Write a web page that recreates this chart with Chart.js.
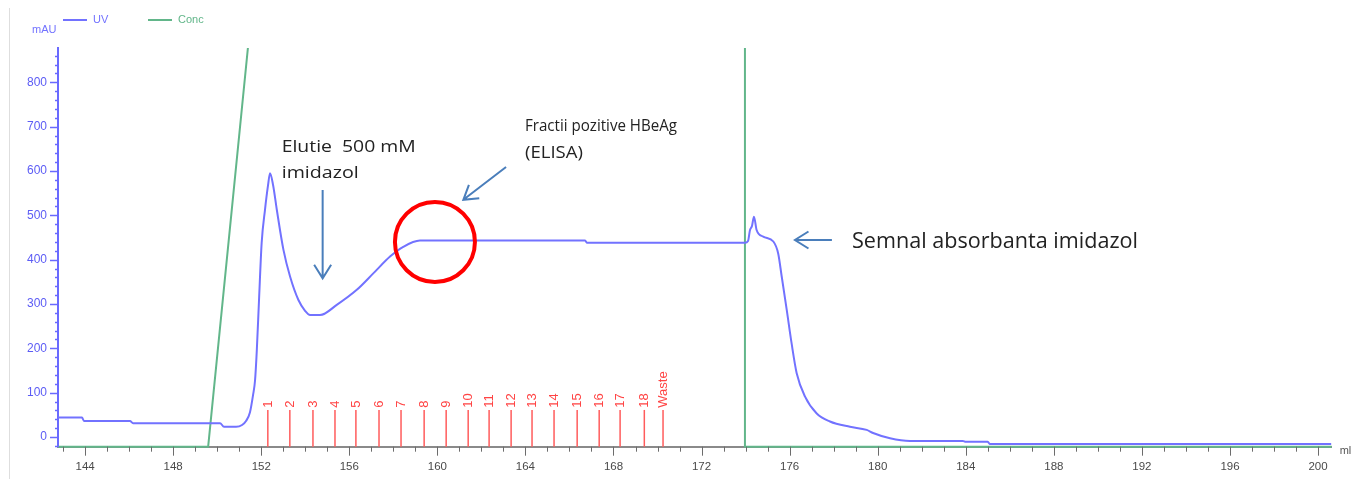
<!DOCTYPE html>
<html>
<head>
<meta charset="utf-8">
<script src="https://cdn.jsdelivr.net/npm/chart.js@4.4.0/dist/chart.umd.min.js"></script>
<style>
  html, body { margin: 0; padding: 0; background: #fff; }
  #wrap { width: 1359px; height: 479px; }
</style>
</head>
<body>
<div id="wrap"><canvas id="chart" width="1359" height="479"></canvas></div>
<script>
// UV trace (mAU), by elution volume (ml)
const uvMl = [142.77, 143.86, 143.95, 146.04, 146.18, 150.13, 150.31, 150.86, 151.13, 151.31,
  151.49, 151.63, 151.72, 151.8, 151.9, 152.02, 152.17, 152.31, 152.4, 152.54,
  152.71, 153.01, 153.31, 153.69, 154.0, 154.22, 154.67, 155.43, 156.34, 157.09,
  157.85, 158.45, 159.21, 166.71, 166.8, 173.97, 174.11, 174.2, 174.29, 174.38,
  174.5, 174.8, 175.26, 175.48, 175.64, 175.87, 176.09, 176.32, 176.7, 177.23,
  177.83, 178.74, 179.5, 179.79, 180.56, 181.47, 183.87, 184.0, 185.0, 185.1, 200.6];
const uvMau = [44, 44, 36, 36, 31, 31, 23, 23, 27, 36,
  56, 95, 128, 196, 309, 438, 512, 568, 595, 568,
  512, 422, 362, 309, 284, 275, 275, 298, 332, 369,
  407, 429, 443, 443, 438, 438, 442, 467, 476, 497,
  467, 452, 441, 414, 362, 286, 211, 144, 91, 53,
  35, 23, 16, 9, -3, -9, -9, -11, -11, -16, -16];

// gradient concentration (% B)
const concMl = [142.77, 149.59, 153.2, 173.97, 173.97, 200.62];
const concPct = [0, 0, 100, 100, 0, 0];

// fraction collector marks
const fractionMl = [152.3, 153.3, 154.35, 155.35, 156.3, 157.35, 158.35, 159.4, 160.4, 161.4,
  162.35, 163.35, 164.3, 165.3, 166.35, 167.35, 168.3, 169.4, 170.25];
const fractionLabels = ["1", "2", "3", "4", "5", "6", "7", "8", "9", "10",
  "11", "12", "13", "14", "15", "16", "17", "18", "Waste"];

const xRange = [142.77, 200.62];
const yRange = [-21.9, 877.5];

const uvColor = "#7272ff";
const concColor = "#62b68a";
const noteColor = "#4a7ebb";
const noteFont = '"Open Sans", sans-serif';

// callouts placed in data coordinates (ml, mAU)
const notes = [
  { text: "Elutie  500 mM", ml: 152.93, mau: 643.6, size: 17, w: 134 },
  { text: "imidazol", ml: 152.93, mau: 583.6, size: 17, w: 77 },
  { text: "Fractii pozitive HBeAg", ml: 163.98, mau: 690, size: 17, w: 152 },
  { text: "(ELISA)", ml: 163.98, mau: 629, size: 17, w: 58 },
  { text: "Semnal absorbanta imidazol", ml: 178.83, mau: 426.3, size: 22, w: 286 }
];
const arrows = [
  { from: [154.79, 557], to: [154.79, 358] },
  { from: [163.12, 609], to: [161.18, 535] },
  { from: [177.92, 444.4], to: [176.24, 444.4] }
];
const ring = { ml: 159.89, mau: 440 };

function fitText(c, str, x, y, size, w) {
  c.font = `${size}px ${noteFont}`;
  const m = c.measureText(str).width;
  c.save();
  c.translate(x, y);
  c.scale(w / m, 1);
  c.fillText(str, 0, 0);
  c.restore();
}

function arrow(c, x1, y1, x2, y2) {
  const a = Math.atan2(y2 - y1, x2 - x1);
  c.beginPath();
  c.moveTo(x1, y1);
  c.lineTo(x2, y2);
  c.moveTo(x2 - 16 * Math.cos(a - 0.56), y2 - 16 * Math.sin(a - 0.56));
  c.lineTo(x2, y2);
  c.lineTo(x2 - 16 * Math.cos(a + 0.56), y2 - 16 * Math.sin(a + 0.56));
  c.stroke();
}

const decor = {
  id: "decor",
  beforeDraw(chart) {
    const c = chart.ctx;
    c.save();
    c.fillStyle = "#fff";
    c.fillRect(0, 0, chart.width, chart.height);
    c.strokeStyle = "#dedede";
    c.lineWidth = 1;
    c.beginPath();
    c.moveTo(9.5, 8);
    c.lineTo(9.5, chart.height);
    c.stroke();
    c.restore();
  },
  afterDatasetsDraw(chart) {
    const c = chart.ctx;
    const { x, y } = chart.scales;
    c.save();

    // tick marks
    c.lineWidth = 1.5;
    c.strokeStyle = "#6a6aff";
    y.ticks.forEach(t => {
      const p = Math.round(y.getPixelForValue(t.value)) + 0.5;
      const major = t.value % 100 === 0;
      c.beginPath();
      c.moveTo(y.right - (major ? 8 : 3), p);
      c.lineTo(y.right + 1, p);
      c.stroke();
    });
    c.lineWidth = 1;
    c.strokeStyle = "#6c6c6c";
    x.ticks.forEach(t => {
      const p = Math.round(x.getPixelForValue(t.value)) + 0.5;
      const major = t.value % 4 === 0;
      c.beginPath();
      c.moveTo(p, x.top);
      c.lineTo(p, x.top + (major ? 9 : 5));
      c.stroke();
    });

    // fractions
    c.strokeStyle = "#ff5c5c";
    c.fillStyle = "#ff4444";
    c.lineWidth = 1.5;
    c.font = '13px "Liberation Sans", Arial, sans-serif';
    fractionMl.forEach((ml, i) => {
      const p = x.getPixelForValue(ml);
      c.beginPath();
      c.moveTo(p, y.bottom);
      c.lineTo(p, y.getPixelForValue(61));
      c.stroke();
      c.save();
      c.translate(p, y.getPixelForValue(66));
      c.rotate(-Math.PI / 2);
      c.textAlign = "left";
      c.textBaseline = "middle";
      c.fillText(fractionLabels[i], 0, 0.5);
      c.restore();
    });

    // legend + units
    c.font = '11px "Liberation Sans", Arial, sans-serif';
    c.textBaseline = "middle";
    c.fillStyle = uvColor;
    c.fillText("mAU", 32, 30);
    c.lineWidth = 2;
    c.strokeStyle = uvColor;
    c.beginPath(); c.moveTo(63, 20); c.lineTo(87, 20); c.stroke();
    c.fillText(chart.data.datasets[0].label, 93, 20);
    c.strokeStyle = concColor;
    c.fillStyle = concColor;
    c.beginPath(); c.moveTo(148, 20); c.lineTo(172, 20); c.stroke();
    c.fillText(chart.data.datasets[1].label, 178, 20);
    c.fillStyle = "#555";
    c.fillText("ml", x.right + 8, x.top + 4);

    // callouts
    c.fillStyle = "#222";
    c.textBaseline = "alphabetic";
    notes.forEach(n => fitText(c, n.text, x.getPixelForValue(n.ml), y.getPixelForValue(n.mau), n.size, n.w));
    c.strokeStyle = noteColor;
    c.lineWidth = 2;
    arrows.forEach(a => arrow(c,
      x.getPixelForValue(a.from[0]), y.getPixelForValue(a.from[1]),
      x.getPixelForValue(a.to[0]), y.getPixelForValue(a.to[1])));
    c.strokeStyle = "#ff0000";
    c.lineWidth = 4;
    c.beginPath();
    c.arc(x.getPixelForValue(ring.ml), y.getPixelForValue(ring.mau), 40, 0, Math.PI * 2);
    c.stroke();

    c.restore();
  }
};

new Chart(document.getElementById("chart"), {
  type: "line",
  data: {
    datasets: [
      {
        label: "UV",
        data: uvMl.map((v, i) => ({ x: v, y: uvMau[i] })),
        borderColor: uvColor,
        borderWidth: 2,
        pointRadius: 0,
        cubicInterpolationMode: "monotone",
        yAxisID: "y",
        order: 1
      },
      {
        label: "Conc",
        data: concMl.map((v, i) => ({ x: v, y: concPct[i] })),
        borderColor: concColor,
        borderWidth: 2,
        pointRadius: 0,
        tension: 0,
        yAxisID: "y2",
        clip: { left: 1, top: 0, right: 1, bottom: 2 },
        order: 2
      }
    ]
  },
  options: {
    responsive: false,
    animation: false,
    devicePixelRatio: 1,
    layout: { autoPadding: false, padding: { left: 10, right: 27.3, top: 48, bottom: 0 } },
    plugins: { legend: { display: false }, tooltip: { enabled: false } },
    scales: {
      x: {
        type: "linear",
        min: xRange[0],
        max: xRange[1],
        afterFit: s => { s.height = 32.3; },
        border: { color: "#8a8a8a", width: 2 },
        grid: { drawOnChartArea: false, drawTicks: false },
        ticks: {
          stepSize: 1,
          autoSkip: false,
          maxRotation: 0,
          includeBounds: false,
          padding: 13,
          color: "#4a4a4a",
          font: { family: '"Liberation Sans", Arial, sans-serif', size: 11.5 },
          callback: v => (v % 4 === 0 ? v : "")
        }
      },
      y: {
        min: yRange[0],
        max: yRange[1],
        afterFit: s => { s.width = 48; },
        border: { color: "#6a6aff", width: 2 },
        grid: { drawOnChartArea: false, drawTicks: false },
        ticks: {
          stepSize: 20,
          autoSkip: false,
          includeBounds: false,
          padding: 11,
          color: "#5c5cf5",
          font: { family: '"Liberation Sans", Arial, sans-serif', size: 12 },
          callback: v => (v % 100 === 0 ? v : "")
        }
      },
      y2: { type: "linear", display: false, min: 0, max: 50 }
    }
  },
  plugins: [decor]
});
</script>
</body>
</html>
